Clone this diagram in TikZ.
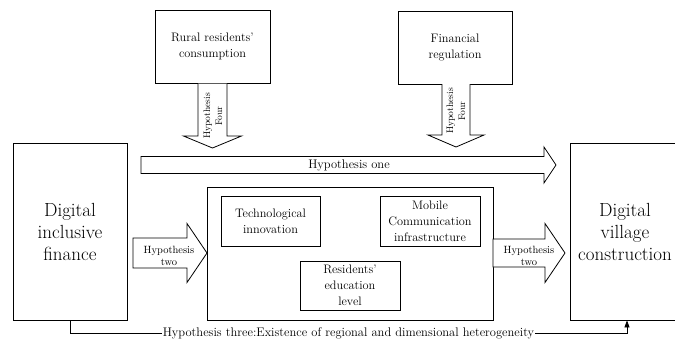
\documentclass[tikz,border=0pt]{standalone}
\usetikzlibrary{arrows.meta}
\begin{document}
\begin{tikzpicture}[x=1pt,y=1pt,
  box/.style={draw, line width=0.8pt, align=center, inner sep=0pt},
  smallbox/.style={box, font=\fontsize{12.3}{16}\selectfont},
  bigbox/.style={box, font=\fontsize{19}{22}\selectfont},
  blockline/.style={draw, line width=0.8pt, fill=white, line join=miter},
  hyplabel/.style={align=center, inner sep=0pt, font=\fontsize{10.5}{11.5}\selectfont},
  vlabel/.style={align=center, inner sep=0pt, font=\fontsize{9.5}{12}\selectfont},
  longlabel/.style={inner sep=1pt, font=\fontsize{12.5}{14}\selectfont}]

% horizontal block arrow: tail x, head start x, tip x, centre y, shaft half, head half
\newcommand\rightblock[6]{%
  \draw[blockline] (#1,{#4+#5}) -- (#2,{#4+#5}) -- (#2,{#4+#6}) -- (#3,#4)
    -- (#2,{#4-#6}) -- (#2,{#4-#5}) -- (#1,{#4-#5}) -- cycle;}
% downward block arrow: top y, head start y, tip y, centre x, shaft half, head half
\newcommand\downblock[6]{%
  \draw[blockline] ({#4-#5},#1) -- ({#4-#5},#2) -- ({#4-#6},#2) -- (#4,#3)
    -- ({#4+#6},#2) -- ({#4+#5},#2) -- ({#4+#5},#1);}

\clip (0,0) rectangle (675,-341);

% outer factors
\node[smallbox, minimum width=115pt, minimum height=73pt] (rural) at (212.5,-46.5)
  {Rural residents'\\consumption};
\node[smallbox, minimum width=114pt, minimum height=73pt] (regul) at (455,-47.5)
  {Financial\\regulation};

% main variables
\node[bigbox, minimum width=114pt, minimum height=177pt] (dif) at (70,-231.5)
  {Digital\\inclusive\\finance};
\node[bigbox, minimum width=110pt, minimum height=177pt] (dvc) at (625,-231.5)
  {Digital\\village\\construction};

% mediating mechanisms
\node[box, minimum width=286pt, minimum height=133pt] (mech) at (350,-253.5) {};
\node[smallbox, minimum width=99pt, minimum height=50pt] (tech) at (270.5,-221)
  {Technological\\innovation};
\node[smallbox, minimum width=100pt, minimum height=50pt] (mobile) at (430,-221)
  {Mobile\\Communication\\infrastructure};
\node[smallbox, minimum width=100pt, minimum height=49pt] (edu) at (350,-285.5)
  {Residents'\\education\\level};

% hypothesis one
\rightblock{141}{544}{556}{-165}{8.5}{18}
\node[longlabel] (h1) at (349,-165) {Hypothesis one};

% hypothesis four
\downblock{-83.5}{-136}{-148}{212.5}{14.5}{29}
\node[vlabel, rotate=90] (h4a) at (213,-116) {Hypothesis\\Four};
\downblock{-84}{-135}{-147}{456}{14}{28}
\node[vlabel, rotate=90] (h4b) at (456,-111) {Hypothesis\\Four};

% hypothesis two
\rightblock{133}{187}{207}{-253}{15}{29.5}
\node[hyplabel] (h2a) at (169,-256) {Hypothesis\\two};
\rightblock{493}{545}{565}{-253}{14}{29.5}
\node[hyplabel] (h2b) at (529,-256) {Hypothesis\\two};

% hypothesis three
\draw[line width=0.8pt, -{Triangle[width=5pt,length=7pt]}]
  (dif.south) -- ++(0,-13) -| ([xshift=2pt]dvc.south);
\node[longlabel, fill=white] (h3) at (348.5,-333)
  {Hypothesis three:Existence of regional and dimensional heterogeneity};
\end{tikzpicture}
\end{document}
